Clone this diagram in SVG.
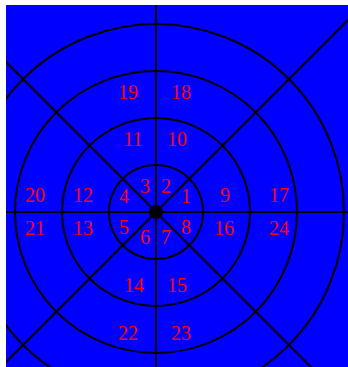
<svg xmlns="http://www.w3.org/2000/svg" width="348" height="367" viewBox="0 0 348 367">
<style>
.ring{fill:none;stroke:#000;stroke-width:2}
.ln{stroke:#000;stroke-width:2}
text{font-family:"Liberation Serif","Times New Roman",serif;font-size:20px;fill:#ff0000;text-anchor:middle}
</style>
<defs><clipPath id="c"><rect x="6" y="5" width="342" height="362"/></clipPath></defs>
<rect x="0" y="0" width="348" height="367" fill="#fff"/>
<rect x="6" y="5" width="342" height="362" fill="#0000ff"/>
<g id="connectors" clip-path="url(#c)">
<circle class="ring" cx="156" cy="212" r="47"/>
<circle class="ring" cx="156" cy="212" r="94"/>
<circle class="ring" cx="156" cy="212" r="141"/>
<circle class="ring" cx="156" cy="212" r="188"/>
<line class="ln" x1="156" y1="0" x2="156" y2="367"/>
<line class="ln" x1="0" y1="212" x2="348" y2="212"/>
<line class="ln" x1="-44" y1="12" x2="356" y2="412"/>
<line class="ln" x1="-44" y1="412" x2="356" y2="12"/>
<circle cx="156" cy="212" r="7" fill="#000"/>
</g>
<g id="labels">
<g id="n1"><text x="186" y="203">1</text></g>
<g id="n2"><text x="166" y="193">2</text></g>
<g id="n3"><text x="145" y="193">3</text></g>
<g id="n4"><text x="124" y="203">4</text></g>
<g id="n5"><text x="124" y="234">5</text></g>
<g id="n6"><text x="145" y="244">6</text></g>
<g id="n7"><text x="166" y="244">7</text></g>
<g id="n8"><text x="186" y="234">8</text></g>
<g id="n9"><text x="225" y="202">9</text></g>
<g id="n10"><text x="177" y="146">10</text></g>
<g id="n11"><text x="133" y="146">11</text></g>
<g id="n12"><text x="83" y="202">12</text></g>
<g id="n13"><text x="83" y="235">13</text></g>
<g id="n14"><text x="134" y="292">14</text></g>
<g id="n15"><text x="177" y="292">15</text></g>
<g id="n16"><text x="224" y="235">16</text></g>
<g id="n17"><text x="279" y="202">17</text></g>
<g id="n18"><text x="181" y="99">18</text></g>
<g id="n19"><text x="128" y="99">19</text></g>
<g id="n20"><text x="35" y="202">20</text></g>
<g id="n21"><text x="35" y="235">21</text></g>
<g id="n22"><text x="128" y="340">22</text></g>
<g id="n23"><text x="181" y="340">23</text></g>
<g id="n24"><text x="279" y="235">24</text></g>
</g>
</svg>
